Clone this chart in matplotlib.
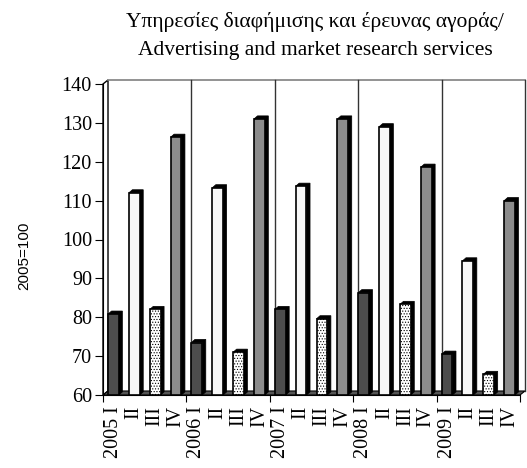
import numpy as np
import matplotlib
matplotlib.use("Agg")
import matplotlib.pyplot as plt

# quarterly index, 2005=100
years = ["2005", "2006", "2007", "2008", "2009"]
quarters = ["I", "II", "III", "IV"]
q1 = [80.8, 73.5, 82.0, 86.3, 70.5]
q2 = [112.0, 113.3, 113.7, 129.0, 94.5]
q3 = [82.0, 71.0, 79.6, 83.3, 65.3]
q4 = [126.3, 131.0, 131.0, 118.6, 110.0]

serif = "Liberation Serif"
BASE = 60
DX, DY = 0.24, 1.03      # depth of the back wall, data units
BDX, BDY = 0.17, 0.8     # depth of each bar
W = 0.52

plt.rcParams["hatch.linewidth"] = 0.5

fig = plt.figure(figsize=(5.27, 4.68), dpi=100)
ax = fig.add_axes([103 / 527, 73 / 468, 417 / 527, 311 / 468])

vals = []
for i in range(len(years)):
    vals += [q1[i], q2[i], q3[i], q4[i]]
x = np.arange(len(vals))

faces = ["#4d4d4d", "#f7f7f7", "white", "#8c8c8c"]
hatches = [None, None, "......", None]

# walls and floor
ax.fill([-0.5, -0.5 + DX, -0.5 + DX, -0.5], [BASE, BASE + DY, 140 + DY, 140],
        color="white", ec="black", lw=1, clip_on=False, zorder=1)
ax.fill([-0.5, 19.5, 19.5 + DX, -0.5 + DX], [BASE, BASE, BASE + DY, BASE + DY],
        color="#555555", ec="black", lw=0.8, clip_on=False, zorder=1)
ax.plot([-0.5 + DX, 19.5 + DX], [140 + DY, 140 + DY], color="#808080", lw=1.2,
        clip_on=False, zorder=1)
for b in [3.5, 7.5, 11.5, 15.5, 19.5]:
    ax.plot([b + DX, b + DX], [BASE + DY, 140 + DY], color="#333333", lw=1,
            clip_on=False, zorder=1)

# bars: black depth first, then the front face
for i, v in enumerate(vals):
    r = x[i] + W / 2
    l = x[i] - W / 2
    ax.fill([r, r + BDX, r + BDX, l + BDX, l, r],
            [BASE, BASE + BDY, v + BDY, v + BDY, v, v],
            color="black", lw=0.5, zorder=2)
for k in range(4):
    idx = x[k::4]
    ax.bar(idx, np.array(vals[k::4]) - BASE, bottom=BASE, width=W,
           color=faces[k], edgecolor="black", linewidth=1.2, hatch=hatches[k],
           zorder=3)

ax.set_xlim(-0.5, 19.5)
ax.set_ylim(60, 140)
ax.set_yticks(range(60, 141, 10))
ax.set_xticks([-0.5, 3.5, 7.5, 11.5, 15.5, 19.5])
ax.set_xticklabels([])
labels = []
for y in years:
    for q in quarters:
        labels.append(y + " " + q if q == "I" else q)
ax.set_xticks(x, minor=True)
ax.set_xticklabels(labels, minor=True, rotation=90, fontfamily=serif, fontsize=14.5)
ax.tick_params(axis="x", which="minor", length=0, pad=8)
ax.tick_params(axis="x", which="major", length=5, direction="out")
ax.tick_params(axis="y", length=6, direction="out", labelsize=14.5, pad=2)
for t in ax.get_yticklabels():
    t.set_fontfamily(serif)

for s in ["top", "right"]:
    ax.spines[s].set_visible(False)
ax.set_facecolor("none")

fig.text(24 / 527, 1 - 256 / 468, "2005=100", rotation=90, ha="center", va="center",
         fontfamily="Liberation Sans", fontsize=11)

fig.text(0.598, 1 - 22 / 468, "Υπηρεσίες διαφήμισης και έρευνας αγοράς/",
         ha="center", va="center", fontfamily=serif, fontsize=15.5)
fig.text(0.598, 1 - 50 / 468, "Advertising and market research services",
         ha="center", va="center", fontfamily=serif, fontsize=15.5)

fig.savefig("out.png", dpi=100)
